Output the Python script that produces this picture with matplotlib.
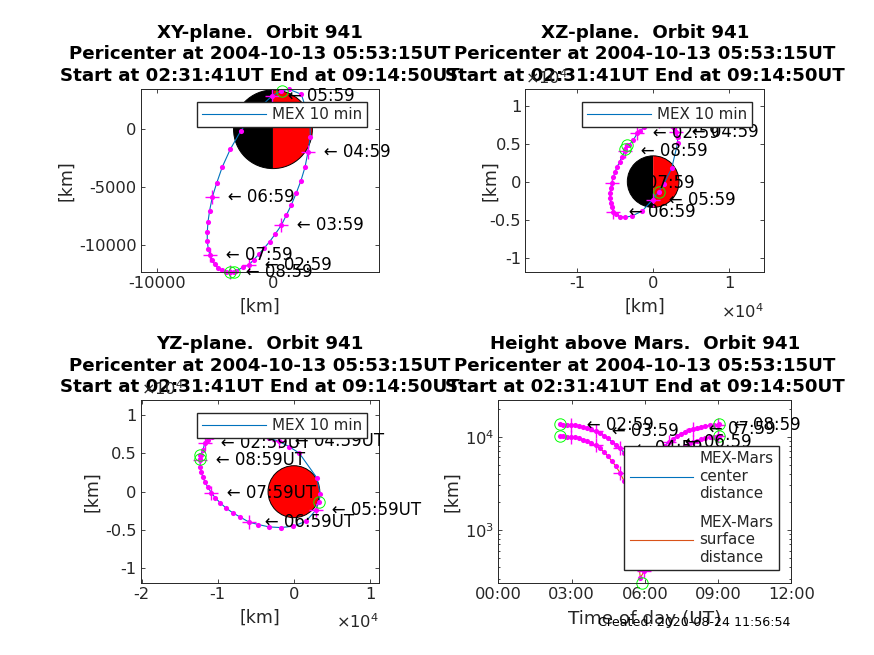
import matplotlib
matplotlib.use("Agg")
import matplotlib.pyplot as plt
from matplotlib.patches import Wedge, Circle
from matplotlib.ticker import NullFormatter, LogLocator

plt.rcParams['font.family'] = 'DejaVu Sans'
plt.rcParams['axes.unicode_minus'] = False
plt.rcParams['mathtext.default'] = 'regular'

times = ["02:31:41", "02:39", "02:49", "02:59", "03:09", "03:19", "03:29", "03:39", "03:49", "03:59",
         "04:09", "04:19", "04:29", "04:39", "04:49", "04:59", "05:09", "05:19", "05:29", "05:39",
         "05:49", "05:59", "06:09", "06:19", "06:29", "06:39", "06:49", "06:59", "07:09", "07:19",
         "07:29", "07:39", "07:49", "07:59", "08:09", "08:19", "08:29", "08:39", "08:49", "08:59", "09:03"]
x_km = [-3736, -3219, -2587, -2098, -1667, -1207, -747, -287, 201, 719,
        1150, 1581, 2012, 2414, 2759, 3018, 3219, 3200, 2443, 1380,
        719, -86, -1437, -2759, -3679, -4368, -4857, -5231, -5461, -5604,
        -5662, -5662, -5576, -5432, -5231, -5030, -4742, -4397, -4081, -3736, -3391]
y_km = [-12300, -12269, -11923, -11722, -11290, -10771, -10253, -9706, -9043, -8294,
        -7430, -6538, -5501, -4435, -3283, -1958, -634, 702, 3024, 3456,
        3312, 2880, 1600, -115, -1728, -3254, -4666, -5875, -7027, -8035,
        -8899, -9648, -10339, -10858, -11290, -11664, -11981, -12182, -12298, -12326, -12290]
z_km = [4254, 4780, 5500, 6360, 6710, 7149, 7500, 7750, 7900, 7950,
        7900, 7800, 7600, 7300, 7000, 6579, 5900, 5044, 1798, -351,
        -1316, -2412, -3859, -4517, -4693, -4605, -4298, -3991, -3333, -2763,
        -2149, -1491, -789, -132, 570, 1228, 1930, 2632, 3289, 4079, 4780]
center_km = [13540, 13500, 13440, 13360, 13240, 12980, 12720, 12420, 12010, 11510,
             10910, 10300, 9600, 8880, 8210, 7500, 6750, 5800, 4900, 4150,
             3700, 3760, 4420, 5290, 6210, 7130, 7990, 8820, 9500, 10180,
             10770, 11290, 11770, 12140, 12460, 12760, 13030, 13210, 13370, 13510, 13610]
surface_km = [10143, 10103, 10043, 9963, 9843, 9583, 9323, 9023, 8613, 8113,
              7513, 6903, 6203, 5483, 4813, 4103, 3353, 2403, 1503, 753,
              306, 363, 1023, 1893, 2813, 3733, 4593, 5423, 6103, 6783,
              7373, 7893, 8373, 8743, 9063, 9363, 9633, 9813, 9973, 10113, 10213]
peri_time = "05:53:15"
peri_xyz = [776, 3312, -1403]
peri_center = 3667
peri_surface = 270
mars_radius = 3397

orbit_title = "Orbit 941"
title_tail = "Pericenter at 2004-10-13 05:53:15UT\nStart at 02:31:41UT End at 09:14:50UT"
legend_mex = "MEX 10 min"
legend_center = "MEX-Mars\ncenter\ndistance"
legend_surface = "MEX-Mars\nsurface\ndistance"
created = "Created: 2020-08-24 11:56:54"

xy_xticks = [-10000, 0]
xy_yticks = [-10000, -5000, 0]
e4_ticks = [-1, -0.5, 0, 0.5, 1]
e4_labels = ['-1', '-0.5', '0', '0.5', '1']
xz_xticks = [-1, 0, 1]
yz_xticks = [-2, -1, 0, 1]
time_ticks = [0, 3, 6, 9, 12]
time_labels = ['00:00', '03:00', '06:00', '09:00', '12:00']

BLUE = (0, 0.447, 0.741)
ORANGE = (0.85, 0.325, 0.098)
MAG = (1, 0, 1)
GREEN = (0, 1, 0)
DARK = '0.15'
W, H = 874, 655
TICK_FS = 11.7
LAB_FS = 12.4
TXT_FS = 12
LEG_FS = 10.9
TITLE_FS = 13.15
PREFIX = '   \u2190 '


def hours(s):
    p = [float(v) for v in s.split(':')]
    return p[0] + p[1] / 60 + (p[2] / 3600 if len(p) > 2 else 0)


t_h = [hours(s) for s in times]
peri_h = hours(peri_time)
hourly = [i for i, s in enumerate(times) if s.endswith(':59')]

fig = plt.figure(figsize=(W / 100, H / 100), dpi=100)


def make_axes(l, t, r, b):
    ax = fig.add_axes([l / W, 1 - b / H, (r - l) / W, (b - t) / H])
    ax.tick_params(which='both', direction='in', top=True, right=True, length=3,
                   width=0.6, color=DARK, labelcolor=DARK, labelsize=TICK_FS, pad=3)
    ax.tick_params(which='minor', length=1.6)
    for s in ax.spines.values():
        s.set_linewidth(0.7)
        s.set_color(DARK)
    return ax


def orbit(ax, u, v, pu, pv, suffix=''):
    ax.plot(u, v, color=BLUE, lw=0.8, zorder=2)
    ax.plot(u, v, ls='none', marker='o', ms=3.7, mfc=MAG, mec=MAG, mew=0, zorder=2.1, clip_on=False)
    ax.plot([u[i] for i in hourly], [v[i] for i in hourly], ls='none', marker='+', ms=9.5,
            mew=1.0, color=MAG, zorder=2.1, clip_on=False)
    ax.plot([u[0], pu, u[-1]], [v[0], pv, v[-1]], ls='none', marker='o', ms=8.2, mfc='none',
            mec=GREEN, mew=0.7, zorder=2.2, clip_on=False)
    for i in hourly:
        ax.text(u[i], v[i], PREFIX + times[i] + suffix, fontsize=TXT_FS, color='k',
                va='center', ha='left', zorder=3, clip_on=False)


def decorate(ax, title, xlab, ylab, xc, yc, xfs=LAB_FS):
    ax.set_title(title + '\n' + title_tail, fontsize=TITLE_FS, fontweight='bold', color='k',
                 pad=6, linespacing=1.24)
    ax.set_xlabel(xlab, fontsize=xfs, color=DARK)
    ax.set_ylabel(ylab, fontsize=LAB_FS, color=DARK)
    ax.xaxis.set_label_coords(0.5, yc, transform=ax.transAxes)
    ax.yaxis.set_label_coords(xc, 0.5, transform=ax.transAxes)


def mars_halves(ax):
    ax.add_patch(Wedge((0, 0), mars_radius, 90, 270, fc='k', ec='none', zorder=1))
    ax.add_patch(Wedge((0, 0), mars_radius, -90, 90, fc='r', ec='none', zorder=1))
    ax.add_patch(Circle((0, 0), mars_radius, fc='none', ec='k', lw=0.7, zorder=1.1))


def mex_legend(ax, l, t):
    return ax.legend([ax.lines[0]], [legend_mex], loc='upper left', bbox_to_anchor=(l, t),
                     bbox_transform=ax.transAxes, borderaxespad=0, fontsize=LEG_FS,
                     fancybox=False, framealpha=1, edgecolor=DARK, handlelength=4.2,
                     handletextpad=0.4, borderpad=0.33, labelcolor=DARK)


def exponents(ax, left_top, right_y):
    ax.text(0.0, left_top, r'$\times 10^{4}$', transform=ax.transAxes, fontsize=TICK_FS,
            color=DARK, ha='left', va='bottom', zorder=6, clip_on=False)
    ax.text(1.0, right_y, r'$\times 10^{4}$', transform=ax.transAxes, fontsize=TICK_FS,
            color=DARK, ha='right', va='top', zorder=6, clip_on=False)


# XY
ax = make_axes(140.7, 89, 379, 272)
orbit(ax, x_km, y_km, peri_xyz[0], peri_xyz[1])
mars_halves(ax)
ax.set_xlim(-11400, 9140)
ax.set_ylim(-12330, 3480)
ax.set_xticks(xy_xticks)
ax.set_yticks(xy_yticks)
decorate(ax, "XY-plane.  " + orbit_title, '[km]', '[km]', -0.275, -0.142)
mex_legend(ax, 0.2375, 0.927)

# XZ
ax = make_axes(525.3, 89, 764.3, 272)
orbit(ax, x_km, z_km, peri_xyz[0], peri_xyz[2])
mars_halves(ax)
ax.set_xlim(-16800, 14600)
ax.set_ylim(-11900, 12200)
ax.set_xticks([v * 10000 for v in xz_xticks])
ax.set_xticklabels([str(v) for v in xz_xticks])
ax.set_yticks([v * 10000 for v in e4_ticks])
ax.set_yticklabels(e4_labels)
decorate(ax, "XZ-plane.  " + orbit_title, '[km]', '[km]', -0.11, -0.142)
mex_legend(ax, 0.2385, 0.927)
exponents(ax, 1.01, -0.165)

# YZ
ax = make_axes(140.7, 400.3, 379, 582.7)
orbit(ax, y_km, z_km, peri_xyz[1], peri_xyz[2], suffix='UT')
ax.add_patch(Circle((0, 0), mars_radius, fc='r', ec='k', lw=0.7, zorder=1))
ax.set_xlim(-20130, 11180)
ax.set_ylim(-11900, 11950)
ax.set_xticks([v * 10000 for v in yz_xticks])
ax.set_xticklabels([str(v) for v in yz_xticks])
ax.set_yticks([v * 10000 for v in e4_ticks])
ax.set_yticklabels(e4_labels)
decorate(ax, "YZ-plane.  " + orbit_title, '[km]', '[km]', -0.164, -0.145)
mex_legend(ax, 0.2375, 0.928)
exponents(ax, 1.01, -0.165)

# Height
ax = make_axes(498.3, 400.3, 791.3, 583.3)
l1, = ax.plot(t_h, center_km, color=BLUE, lw=0.8, zorder=2)
l2, = ax.plot(t_h, surface_km, color=ORANGE, lw=0.8, zorder=2)
for vals, pv in ((center_km, peri_center), (surface_km, peri_surface)):
    ax.plot(t_h, vals, ls='none', marker='o', ms=3.7, mfc=MAG, mec=MAG, mew=0, zorder=2.1, clip_on=False)
    ax.plot([t_h[i] for i in hourly], [vals[i] for i in hourly], ls='none', marker='+', ms=9.5,
            mew=1.0, color=MAG, zorder=2.1, clip_on=False)
    ax.plot([t_h[0], peri_h, t_h[-1]], [vals[0], pv, vals[-1]], ls='none', marker='o', ms=8.2,
            mfc='none', mec=GREEN, mew=0.7, zorder=2.2, clip_on=False)
for i in hourly:
    ax.text(t_h[i], center_km[i], PREFIX + times[i], fontsize=TXT_FS, color='k', va='center',
            ha='left', zorder=3, clip_on=False)
ax.set_yscale('log')
ax.set_xlim(0, 12)
ax.set_ylim(267, 24600)
ax.set_xticks(time_ticks)
ax.set_xticklabels(time_labels)
ax.yaxis.set_major_locator(LogLocator(base=10, numticks=5))
ax.yaxis.set_minor_locator(LogLocator(base=10, subs=range(2, 10), numticks=12))
ax.yaxis.set_minor_formatter(NullFormatter())
decorate(ax, "Height above Mars.  " + orbit_title, 'Time of day (UT)', '[km]', -0.127, -0.146, xfs=13.2)
ax.legend([l1, l2], [legend_center, legend_surface], loc='upper left', bbox_to_anchor=(0.430, 0.750),
          bbox_transform=ax.transAxes, borderaxespad=0, fontsize=LEG_FS, fancybox=False, framealpha=1,
          edgecolor=DARK, handlelength=4.2, handletextpad=0.4, borderpad=0.35, labelspacing=0.9,
          labelcolor=DARK)

fig.text(791 / W, 1 - 622 / H, created, fontsize=9.07, color='k', ha='right', va='center')

fig.savefig('out.png', dpi=100)
